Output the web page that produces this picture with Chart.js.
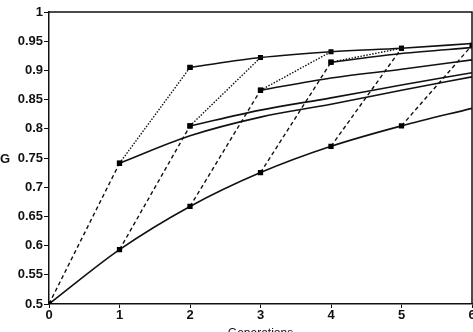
<!DOCTYPE html>
<html>
<head>
<meta charset="utf-8">
<script src="https://cdn.jsdelivr.net/npm/chart.js@4/dist/chart.umd.min.js"></script>
<style>
    html, body { margin: 0; padding: 0; background: #fff; overflow: hidden; }
    #wrap { position: relative; width: 485px; height: 342px; }
</style>
</head>
<body>
<div id="wrap"><canvas id="chart"></canvas></div>
<script>
// values
const generations = [0, 1, 2, 3, 4, 5, 6];
const yTicks = [0.5, 0.55, 0.6, 0.65, 0.7, 0.75, 0.8, 0.85, 0.9, 0.95, 1];

// main curve (solid)
const baseG = [0.5, 0.593, 0.667, 0.725, 0.77, 0.805, 0.835];
// one generation of the other scheme from the main curve (dashed), reached at gen k
const switchG = [null, 0.741, 0.805, 0.866, 0.914, 0.938, 0.943];
// second switch from switchG (dotted), reached at gen k
const secondG = [null, null, 0.905, 0.922, 0.932, 0.938, null];

// solid continuations after a switch
const topG = [null, null, 0.905, 0.922, 0.932, 0.938, 0.946];
const fromGen1 = [null, 0.741, 0.788, 0.82, 0.842, 0.866, 0.889];
const fromGen2 = [null, null, 0.805, 0.832, 0.853, 0.875, 0.896];
const fromGen3 = [null, null, null, 0.866, 0.887, 0.902, 0.918];
const fromGen4 = [null, null, null, null, 0.914, 0.929, 0.939];

function toPoints(values) {
    return generations.map((g, i) => ({ x: g, y: values[i] })).filter(p => p.y !== null);
}

const datasets = [];

function solidLine(values, lastMarker) {
    const pts = toPoints(values);
    datasets.push({
        data: pts,
        borderColor: '#111',
        borderWidth: 1.6,
        pointRadius: pts.map((p, i) => (i === 0 || (lastMarker && i < pts.length - 1)) ? 2.6 : 0),
        pointStyle: 'rect',
        pointBackgroundColor: '#000',
        pointBorderColor: '#000',
        cubicInterpolationMode: 'monotone'
    });
}

function jump(x0, y0, x1, y1, dash) {
    datasets.push({
        data: [{ x: x0, y: y0 }, { x: x1, y: y1 }],
        borderColor: '#111',
        borderWidth: 1.4,
        borderDash: dash,
        pointRadius: [0, 2.6],
        pointStyle: 'rect',
        pointBackgroundColor: '#000',
        pointBorderColor: '#000'
    });
}

solidLine(baseG, true);
solidLine(topG, false);
solidLine(fromGen1, false);
solidLine(fromGen2, false);
solidLine(fromGen3, false);
solidLine(fromGen4, false);

generations.forEach((g, k) => {
    if (k < 6 && switchG[k + 1] !== null) jump(g, baseG[k], g + 1, switchG[k + 1], [4, 3]);
    if (k < 6 && switchG[k] !== null && secondG[k + 1] !== null) jump(g, switchG[k], g + 1, secondG[k + 1], [1.5, 1.5]);
});

const frame = {
    id: 'frame',
    afterDraw(chart) {
        const { ctx, chartArea } = chart;
        ctx.save();
        ctx.strokeStyle = '#111';
        ctx.lineWidth = 1.5;
        ctx.beginPath();
        ctx.moveTo(chartArea.left, chartArea.top);
        ctx.lineTo(chartArea.right, chartArea.top);
        ctx.lineTo(chartArea.right, chartArea.bottom);
        ctx.stroke();
        ctx.fillStyle = '#111';
        ctx.font = 'bold 13px "Liberation Sans", Arial, sans-serif';
        ctx.textAlign = 'center';
        ctx.textBaseline = 'middle';
        ctx.fillText('G', 5, chart.scales.y.getPixelForValue(0.75) + 1);
        ctx.restore();
    }
};

const tickFont = { family: '"Liberation Sans", Arial, sans-serif', size: 13, weight: 'bold' };

new Chart(document.getElementById('chart'), {
    type: 'line',
    data: { datasets },
    options: {
        responsive: true,
        maintainAspectRatio: false,
        devicePixelRatio: 1,
        animation: false,
        layout: { padding: { top: 12, right: 13, left: 0, bottom: 0 } },
        plugins: { legend: { display: false }, tooltip: { enabled: false } },
        scales: {
            x: {
                type: 'linear',
                min: 0,
                max: 6,
                afterBuildTicks: s => { s.ticks = generations.map(v => ({ value: v })); },
                afterFit: s => { s.height = 38; },
                ticks: { color: '#111', font: tickFont, padding: 0, maxRotation: 0 },
                grid: { display: true, drawOnChartArea: false, drawTicks: true, tickLength: 4, color: '#111' },
                border: { display: true, color: '#111', width: 1.5 },
                title: { display: true, text: 'Generations', color: '#111', font: { family: '"Liberation Sans", Arial, sans-serif', size: 12 }, padding: { top: 0, bottom: 1 } }
            },
            y: {
                type: 'linear',
                min: 0.5,
                max: 1,
                afterBuildTicks: s => { s.ticks = yTicks.map(v => ({ value: v })); },
                afterFit: s => { s.width = 49; },
                ticks: { color: '#111', font: tickFont, padding: 1, callback: v => String(+v.toFixed(2)) },
                grid: { display: true, drawOnChartArea: false, drawTicks: true, tickLength: 5, color: '#111' },
                border: { display: true, color: '#111', width: 1.5 }
            }
        }
    },
    plugins: [frame]
});
</script>
</body>
</html>
